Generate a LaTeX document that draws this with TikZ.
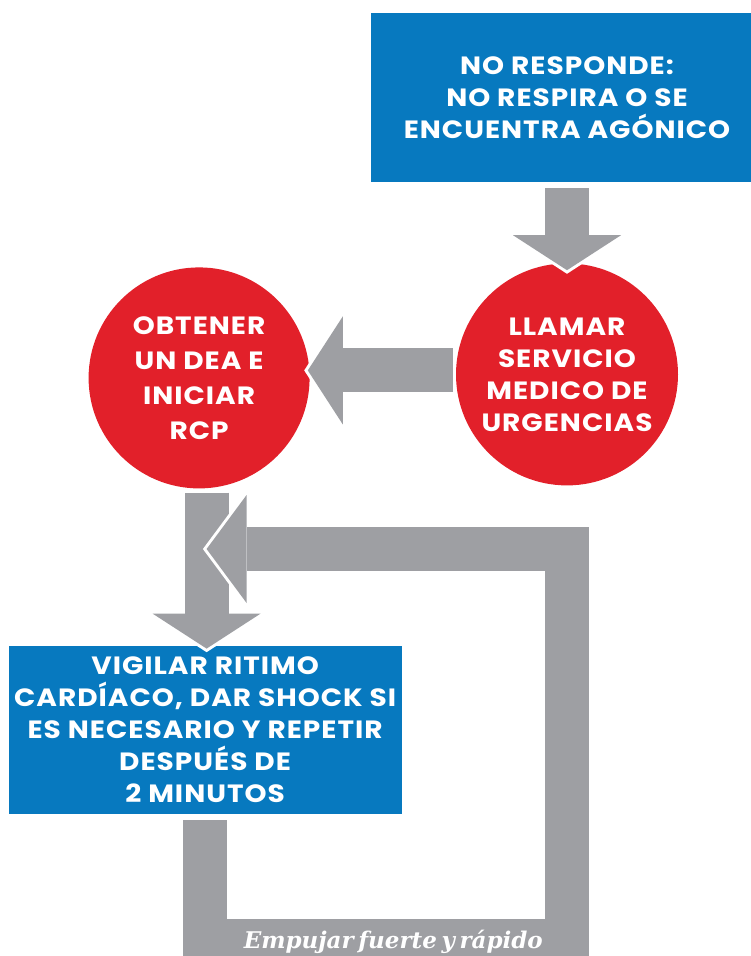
\documentclass[tikz,border=0pt]{standalone}
\usepackage{fontspec}
\usepackage{xcolor}
\usepackage{tikz}
\usetikzlibrary{shapes.geometric, arrows.meta, positioning, calc}
\newfontfamily\boxfont{Poppins}[FakeStretch=1.12, LetterSpace=4]
\newfontfamily\slabfont{DejaVu Serif}
\definecolor{boxblue}{HTML}{0779BF}
\definecolor{circlered}{HTML}{E2202A}
\definecolor{arrowgray}{HTML}{9E9FA3}
\tikzset{
    bluebox/.style={rectangle, fill=boxblue, text=white, align=center, inner sep=0pt, font=\boxfont\bfseries\fontsize{25}{32}\selectfont, minimum height=168pt},
    redcircle/.style={circle, fill=circlered, text=white, align=center, inner sep=0pt, font=\boxfont\bfseries\fontsize{25}{32}\selectfont, minimum size=222pt},
    fatarrow/.style={draw=arrowgray, line width=44pt, -{Triangle[line width=0pt, length=35pt, width=108pt]},
        preaction={draw=white, line width=50pt, -{Triangle[line width=0pt, length=41.6pt, width=128pt]}, shorten >=-3.6pt}},
    looparrow/.style={draw=arrowgray, line width=44pt, -{Triangle[line width=0pt, length=40pt, width=108pt]},
        preaction={draw=white, line width=50pt, -{Triangle[line width=0pt, length=46.7pt, width=126pt]}, shorten >=-3.7pt}}
}

\begin{document}
\begin{tikzpicture}[x=1pt, y=-1pt, node distance=81pt]
    \useasboundingbox (0,0) rectangle (751,956);
    \clip (0,0) rectangle (751,956);
    \fill[white] (0,0) rectangle (751,956);

    \node (resp) [bluebox, minimum width=392pt, minimum height=169pt] at (567,97.5) {NO RESPONDE:\\NO RESPIRA O SE\\ENCUENTRA AGÓNICO};
    \node (llamar) [redcircle, below=of resp] {LLAMAR\\SERVICIO\\MEDICO DE\\URGENCIAS};
    \node (obtener) [redcircle, minimum size=221pt, left=146pt of llamar, yshift=-3.5pt, font=\boxfont\bfseries\fontsize{25}{35}\selectfont] {OBTENER\\UN DEA E\\INICIAR\\RCP};
    \node (vigilar) [bluebox, minimum width=393pt, below=157pt of obtener, xshift=6pt] {VIGILAR RITIMO\\CARDÍACO, DAR SHOCK SI\\ES NECESARIO Y REPETIR\\DESPUÉS DE\\2 MINUTOS};

    \coordinate (abajo) at (llamar |- 0,941);
    \coordinate (esquina) at (llamar |- 0,549);
    \coordinate (retorno) at ($(obtener.south |- esquina)+(7.5,0)$);

    \draw[fatarrow, shorten <=6pt] (resp.south) -- ($(llamar.north)+(0,7)$);
    \draw[fatarrow] ($(llamar.west)+(-3,-4)$) -- ($(obtener.east)+(-2,-7.5)$);
    \draw[fatarrow] ($(obtener.south)+(7.5,4)$) -- ($(vigilar.north)+(1.5,3)$);
    \draw[looparrow, shorten <=6pt] (vigilar.south) |- node[pos=0.76, anchor=base, yshift=-7pt, text=white, font=\slabfont\bfseries\itshape\fontsize{23}{26}\selectfont] {\spaceskip=0.2em\relax Empujar fuerte y rápido} (abajo) -- (esquina) -- (retorno);
\end{tikzpicture}
\end{document}
